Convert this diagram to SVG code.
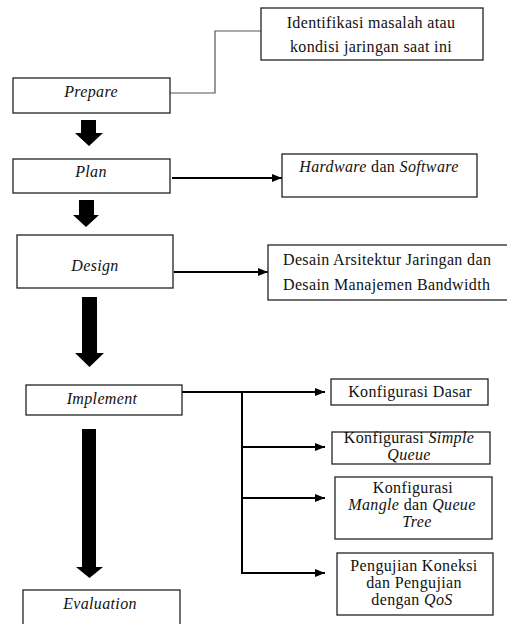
<svg xmlns="http://www.w3.org/2000/svg" width="507" height="624" viewBox="0 0 507 624">
<defs>
<style>
.box{fill:#fff;stroke:#222;stroke-width:1.3}
.t{font-family:"Liberation Serif","Times New Roman",serif;font-size:16px;fill:#111;letter-spacing:0.35px}
.c{text-anchor:middle}
.i{font-style:italic}
.ln{fill:none;stroke:#000;stroke-width:2}
.thin{fill:none;stroke:#555;stroke-width:1.2}
.blk{fill:#000}
</style>
<marker id="ah" markerWidth="10" markerHeight="8" refX="10" refY="4" orient="auto" markerUnits="userSpaceOnUse">
<path d="M0,0 L10,4 L0,8 Z" fill="#000"/>
</marker>
</defs>
<rect width="507" height="624" fill="#fff"/>

<g id="connectors">
<polyline class="thin" points="170,93 215,93 215,31 261,31"/>
<line class="ln" x1="172" y1="178" x2="282" y2="178" marker-end="url(#ah)"/>
<line class="ln" x1="174" y1="272" x2="268" y2="272" marker-end="url(#ah)"/>
<line class="ln" x1="182" y1="392" x2="325" y2="392" marker-end="url(#ah)"/>
<line class="ln" x1="242" y1="392" x2="242" y2="574"/>
<line class="ln" x1="241" y1="447" x2="325" y2="447" marker-end="url(#ah)"/>
<line class="ln" x1="241" y1="498" x2="325" y2="498" marker-end="url(#ah)"/>
<line class="ln" x1="241" y1="573" x2="325" y2="573" marker-end="url(#ah)"/>
<polygon class="blk" points="81,120 96,120 96,133 103,133 89,146 75,133 81,133"/>
<polygon class="blk" points="79,200 94,200 94,215 99,215 86,227 73,215 79,215"/>
<polygon class="blk" points="82,297 97,297 97,353 104,353 89.5,367 75,353 82,353"/>
<polygon class="blk" points="82,429 96,429 96,567 103,567 89.5,578 76,567 82,567"/>
</g>

<g id="identifikasi">
<rect class="box" x="261" y="8" width="222" height="52"/>
<text class="t c" x="371" y="28">Identifikasi masalah atau</text>
<text class="t c" x="371" y="52">kondisi jaringan saat ini</text>
</g>

<g id="prepare">
<rect class="box" x="13" y="78" width="157" height="35"/>
<text class="t c i" x="91" y="97">Prepare</text>
</g>

<g id="plan">
<rect class="box" x="13" y="159" width="157" height="34"/>
<text class="t c i" x="91" y="177">Plan</text>
</g>

<g id="hardware">
<rect class="box" x="282" y="154" width="195" height="43"/>
<text class="t c" x="379" y="172"><tspan class="i">Hardware</tspan> dan <tspan class="i">Software</tspan></text>
</g>

<g id="design">
<rect class="box" x="17" y="235" width="156" height="53"/>
<text class="t c i" x="95" y="271">Design</text>
</g>

<g id="desain">
<rect class="box" x="268" y="245" width="260" height="55"/>
<text class="t" x="283" y="265">Desain Arsitektur Jaringan dan</text>
<text class="t" x="283" y="290">Desain Manajemen Bandwidth</text>
</g>

<g id="implement">
<rect class="box" x="26" y="385" width="156" height="30"/>
<text class="t c i" x="102" y="404">Implement</text>
</g>

<g id="dasar">
<rect class="box" x="331" y="379" width="157" height="26"/>
<text class="t c" x="410" y="397">Konfigurasi Dasar</text>
</g>

<g id="simple">
<rect class="box" x="332" y="432" width="158" height="32"/>
<text class="t c" x="409" y="443">Konfigurasi <tspan class="i">Simple</tspan></text>
<text class="t c i" x="409" y="460">Queue</text>
</g>

<g id="mangle">
<rect class="box" x="335" y="477" width="157" height="62"/>
<text class="t c" x="413" y="493">Konfigurasi</text>
<text class="t c" x="412" y="510"><tspan class="i">Mangle</tspan> dan <tspan class="i">Queue</tspan></text>
<text class="t c i" x="417" y="527">Tree</text>
</g>

<g id="pengujian">
<rect class="box" x="337" y="553" width="156" height="62"/>
<text class="t c" x="414" y="571">Pengujian Koneksi</text>
<text class="t c" x="414" y="588">dan Pengujian</text>
<text class="t c" x="412" y="605">dengan <tspan class="i">QoS</tspan></text>
</g>

<g id="evaluation">
<rect class="box" x="23" y="590" width="157" height="50"/>
<text class="t c i" x="100" y="609">Evaluation</text>
</g>
</svg>
